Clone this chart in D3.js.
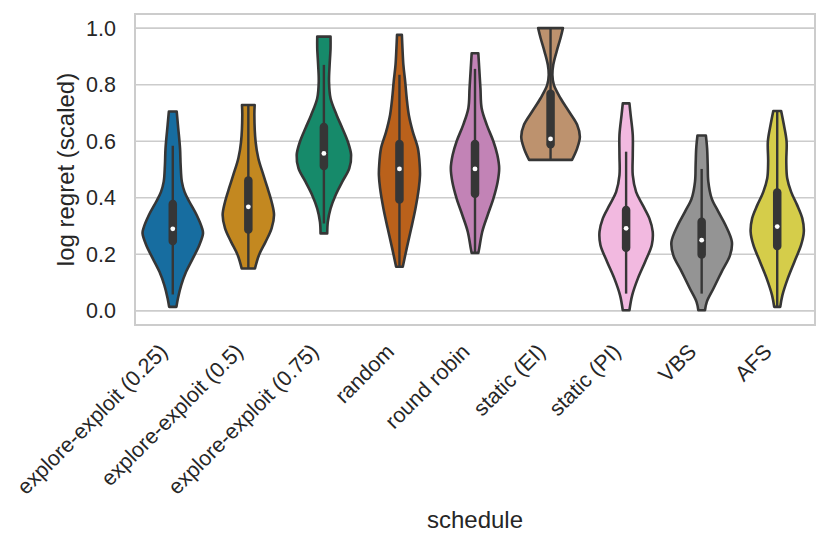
<!DOCTYPE html>
<html>
<head>
<meta charset="utf-8">
<script src="https://cdn.jsdelivr.net/npm/d3@7"></script>
<style>
  body { margin: 0; background: #fff; }
  text { font-family: "Liberation Sans", Arial, sans-serif; fill: #262626; }
</style>
</head>
<body>
<script>
// schedules on the x axis
const schedules = ["explore-exploit (0.25)", "explore-exploit (0.5)", "explore-exploit (0.75)",
  "random", "round robin", "static (EI)", "static (PI)", "VBS", "AFS"];

// violin outlines: [log regret, relative density]
const profileEE025 = [[0.705,0.13],[0.658,0.17],[0.575,0.24],[0.516,0.26],[0.457,0.30],[0.421,0.39],[0.386,0.55],[0.339,0.79],[0.292,0.97],[0.274,1.0],[0.233,0.88],[0.185,0.66],[0.138,0.44],[0.091,0.28],[0.044,0.17],[0.014,0.12]];
const profileEE05 = [[0.728,0.21],[0.693,0.20],[0.599,0.24],[0.54,0.33],[0.48,0.50],[0.433,0.64],[0.386,0.77],[0.339,0.85],[0.292,0.77],[0.244,0.57],[0.197,0.35],[0.150,0.22]];
const profileEE075 = [[0.970,0.22],[0.929,0.22],[0.870,0.19],[0.811,0.17],[0.752,0.22],[0.693,0.42],[0.646,0.61],[0.599,0.79],[0.551,0.90],[0.504,0.84],[0.457,0.61],[0.410,0.39],[0.362,0.22],[0.315,0.13],[0.274,0.11]];
const profileRandom = [[0.976,0.08],[0.929,0.10],[0.870,0.13],[0.811,0.19],[0.752,0.24],[0.693,0.31],[0.634,0.44],[0.575,0.61],[0.516,0.67],[0.48,0.68],[0.433,0.64],[0.362,0.53],[0.292,0.39],[0.221,0.24],[0.156,0.11]];
const profileRoundRobin = [[0.911,0.11],[0.858,0.14],[0.788,0.18],[0.717,0.22],[0.658,0.39],[0.599,0.61],[0.551,0.74],[0.504,0.80],[0.457,0.75],[0.398,0.61],[0.339,0.42],[0.28,0.24],[0.221,0.14],[0.205,0.11]];
const profileStaticEI = [[1.0,0.41],[0.965,0.33],[0.917,0.20],[0.870,0.09],[0.835,0.06],[0.799,0.11],[0.752,0.33],[0.705,0.61],[0.658,0.88],[0.616,0.97],[0.575,0.88],[0.534,0.71]];
const profileStaticPI = [[0.734,0.11],[0.693,0.15],[0.622,0.22],[0.551,0.22],[0.48,0.22],[0.421,0.33],[0.374,0.55],[0.327,0.77],[0.280,0.88],[0.233,0.85],[0.174,0.63],[0.115,0.39],[0.055,0.20],[0.002,0.11]];
const profileVBS = [[0.62,0.14],[0.575,0.18],[0.516,0.20],[0.457,0.22],[0.398,0.33],[0.351,0.55],[0.303,0.79],[0.244,1.0],[0.197,0.94],[0.138,0.66],[0.079,0.39],[0.032,0.17],[0.002,0.11]];
const profileAFS = [[0.707,0.13],[0.658,0.22],[0.599,0.31],[0.528,0.30],[0.469,0.33],[0.421,0.46],[0.374,0.66],[0.327,0.83],[0.280,0.88],[0.233,0.79],[0.174,0.57],[0.115,0.35],[0.055,0.17],[0.014,0.10]];

const profiles = [profileEE025, profileEE05, profileEE075, profileRandom, profileRoundRobin,
  profileStaticEI, profileStaticPI, profileVBS, profileAFS];

// inner box stats
const whiskerLow  = [0.058, 0.150, 0.309, 0.156, 0.205, 0.534, 0.061, 0.061, 0.014];
const q1          = [0.247, 0.288, 0.512, 0.394, 0.414, 0.589, 0.223, 0.199, 0.229];
const medians     = [0.290, 0.368, 0.557, 0.502, 0.502, 0.608, 0.292, 0.250, 0.298];
const q3          = [0.378, 0.461, 0.650, 0.590, 0.590, 0.768, 0.357, 0.315, 0.419];
const whiskerHigh = [0.584, 0.728, 0.870, 0.835, 0.856, 1.000, 0.563, 0.502, 0.707];

const yTicks = [0.0, 0.2, 0.4, 0.6, 0.8, 1.0];

// seaborn colorblind palette, desaturated
const palette = ["#176da0", "#c38820", "#168a6a", "#ba611b", "#c283b6", "#bd926e", "#f2b9e0", "#949494", "#d5cd4a"];

const width = 830, height = 547;
const mLeft = 135, mRight = 815, mTop = 14, mBottom = 325;
const dark = "#363636";

const svg = d3.select("body").append("svg")
  .attr("width", width)
  .attr("height", height);

const x = d3.scaleBand().domain(schedules).range([mLeft, mRight]).padding(0);
const y = d3.scaleLinear().domain([-0.05, 1.05]).range([mBottom, mTop]);
const w = d3.scaleLinear().domain([0, 1]).range([0, x.bandwidth() * 0.4]);

// grid
svg.append("g")
  .selectAll("line")
  .data(yTicks)
  .join("line")
  .attr("x1", mLeft).attr("x2", mRight)
  .attr("y1", d => y(d)).attr("y2", d => y(d))
  .attr("stroke", "#cccccc")
  .attr("stroke-width", 1.6);

// frame
svg.append("rect")
  .attr("x", mLeft).attr("y", mTop)
  .attr("width", mRight - mLeft).attr("height", mBottom - mTop)
  .attr("fill", "none")
  .attr("stroke", "#cccccc")
  .attr("stroke-width", 2);

const area = d3.area()
  .curve(d3.curveCatmullRom)
  .y(d => y(d[0]));

const violins = svg.append("g")
  .selectAll("g")
  .data(schedules)
  .join("g")
  .attr("transform", d => "translate(" + (x(d) + x.bandwidth() / 2) + ",0)");

violins.append("path")
  .attr("d", (d, i) => area.x0(p => -w(p[1])).x1(p => w(p[1]))(profiles[i]))
  .attr("fill", (d, i) => palette[i])
  .attr("stroke", dark)
  .attr("stroke-width", 2.6)
  .attr("stroke-linejoin", "round");

violins.append("line")
  .attr("y1", (d, i) => y(whiskerLow[i]))
  .attr("y2", (d, i) => y(whiskerHigh[i]))
  .attr("stroke", dark)
  .attr("stroke-width", 2.4);

violins.append("line")
  .attr("y1", (d, i) => y(q1[i]))
  .attr("y2", (d, i) => y(q3[i]))
  .attr("stroke", dark)
  .attr("stroke-width", 8.5)
  .attr("stroke-linecap", "round");

violins.append("circle")
  .attr("cy", (d, i) => y(medians[i]))
  .attr("r", 2.4)
  .attr("fill", "#ffffff");

// y tick labels
svg.append("g")
  .selectAll("text")
  .data(yTicks)
  .join("text")
  .attr("x", mLeft - 19)
  .attr("y", d => y(d))
  .attr("dy", "0.35em")
  .attr("text-anchor", "end")
  .attr("font-size", 21.5)
  .text(d => d.toFixed(1));

// x tick labels
svg.append("g")
  .selectAll("text")
  .data(schedules)
  .join("text")
  .attr("text-anchor", "end")
  .attr("font-size", 21.5)
  .attr("transform", d => "translate(" + (x(d) + x.bandwidth() / 2 - 4) + "," + (mBottom + 28) + ") rotate(-45)")
  .text(d => d);

svg.append("text")
  .attr("x", (mLeft + mRight) / 2)
  .attr("y", 528)
  .attr("text-anchor", "middle")
  .attr("font-size", 24)
  .text("schedule");

svg.append("text")
  .attr("transform", "translate(74," + ((mTop + mBottom) / 2) + ") rotate(-90)")
  .attr("text-anchor", "middle")
  .attr("font-size", 24)
  .text("log regret (scaled)");
</script>
</body>
</html>
